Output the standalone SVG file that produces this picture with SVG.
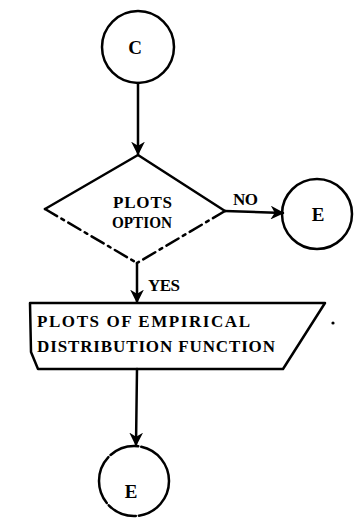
<svg xmlns="http://www.w3.org/2000/svg" width="354" height="521" viewBox="0 0 354 521">
<style>
.s{fill:none;stroke:#000;stroke-width:2.5;stroke-linecap:round;stroke-linejoin:round}
.d{stroke-dasharray:14 5 3 5}
.t{font-family:"Liberation Serif","DejaVu Serif",serif;font-weight:bold;font-size:17px;fill:#000}
.c{font-family:"Liberation Serif","DejaVu Serif",serif;font-weight:bold;font-size:19px;fill:#000;text-anchor:middle}
</style>
<defs>
<marker id="ah" viewBox="0 0 10 10" refX="9" refY="5" markerWidth="5.5" markerHeight="5.5" orient="auto" markerUnits="strokeWidth">
<path d="M0,0 L10,5 L0,10 L3,5 z" fill="#000"/>
</marker>
</defs>
<rect width="354" height="521" fill="#fff"/>
<g id="connectors">
<line class="s" x1="138" y1="83" x2="138" y2="154" marker-end="url(#ah)"/>
<line class="s" x1="225" y1="211" x2="283" y2="213" stroke-width="3.5" marker-end="url(#ah)"/>
<line class="s" x1="137" y1="263" x2="137" y2="302" marker-end="url(#ah)"/>
<text class="t" x="148" y="291" textLength="32" lengthAdjust="spacing">YES</text>
<text class="t" x="233" y="205" textLength="25" lengthAdjust="spacing">NO</text>
<line class="s" x1="137" y1="369" x2="136" y2="445" marker-end="url(#ah)"/>
</g>
<g id="start_C">
<circle class="s" cx="138" cy="47" r="36"/>
<text class="c" x="135" y="54">C</text>
</g>
<g id="decision_plots_option">
<path class="s" d="M138,155 L225,211"/>
<path class="s" d="M138,155 L45,209"/>
<path class="s d" d="M45,209 L137,263"/>
<path class="s d" d="M225,211 L137,263"/>
<text class="t" x="113" y="208" textLength="59" lengthAdjust="spacing">PLOTS</text>
<text class="t" x="112" y="228" textLength="60" lengthAdjust="spacingAndGlyphs">OPTION</text>
</g>
<g id="connector_E_right">
<circle class="s" cx="317" cy="214" r="35"/>
<text class="c" x="318" y="221">E</text>
</g>
<g id="plots_output">
<path class="s" d="M30,303 L325,303 L283,369 L38,369 L31,352 Z"/>
<text class="t" x="37" y="327" textLength="213" lengthAdjust="spacing">PLOTS OF EMPIRICAL</text>
<text class="t" x="37" y="352" textLength="238" lengthAdjust="spacing">DISTRIBUTION FUNCTION</text>
<circle cx="333" cy="323" r="1.6" fill="#000"/>
</g>
<g id="end_E">
<circle class="s" cx="134" cy="481" r="35" style="stroke-dasharray:50 3 30 3"/>
<text class="c" x="131" y="498">E</text>
</g>
</svg>
